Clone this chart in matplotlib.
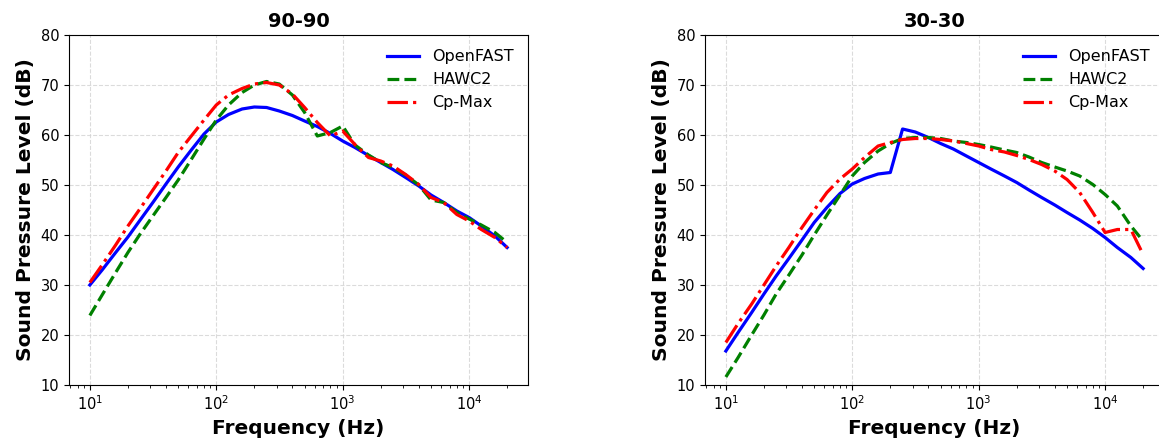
#import libraries
import matplotlib
matplotlib.use('Agg')
import matplotlib.pyplot as plt

#one-third octave band centre frequencies (Hz)
freq = [10, 12.5, 16, 20, 25, 31.5, 40, 50, 63, 80, 100, 125, 160, 200, 250, 315, 400,
        500, 630, 800, 1000, 1250, 1600, 2000, 2500, 3150, 4000, 5000, 6300, 8000,
        10000, 12500, 16000, 20000]

#case 90-90
of_90 = [30.0, 33.0, 36.5, 39.6, 43.0, 46.5, 50.2, 53.6, 56.9, 60.2, 62.6, 64.1, 65.2, 65.6,
         65.5, 64.8, 63.9, 62.8, 61.7, 60.3, 58.8, 57.5, 55.9, 54.5, 53.1, 51.5, 49.8, 48.0,
         46.5, 44.8, 43.5, 41.8, 39.8, 37.5]
hawc_90 = [23.9, 28.0, 32.5, 36.5, 40.2, 43.8, 47.5, 51.0, 55.0, 59.2, 63.0, 66.0, 68.5, 70.0,
           70.7, 70.2, 68.0, 64.5, 59.8, 60.5, 61.8, 58.0, 56.0, 54.5, 53.5, 52.0, 50.0, 47.0,
           46.5, 44.5, 43.2, 42.0, 40.5, 38.5]
cp_90 = [30.5, 34.0, 38.0, 41.8, 45.3, 49.0, 52.8, 56.5, 59.7, 63.0, 66.0, 68.0, 69.3, 70.2,
         70.5, 70.0, 68.2, 65.5, 62.5, 59.8, 60.8, 58.1, 55.5, 54.8, 53.8, 52.1, 50.1, 47.5,
         46.5, 44.1, 42.8, 41.1, 39.5, 37.5]

#case 30-30
of_30 = [16.8, 20.5, 24.5, 28.2, 31.8, 35.3, 39.0, 42.5, 45.5, 48.3, 50.2, 51.3, 52.2, 52.5,
         61.2, 60.6, 59.5, 58.3, 57.2, 55.8, 54.5, 53.2, 51.8, 50.5, 49.0, 47.5, 46.0, 44.5,
         43.0, 41.3, 39.5, 37.5, 35.5, 33.3]
hawc_30 = [11.6, 15.5, 20.0, 24.0, 28.2, 32.0, 36.0, 40.0, 44.0, 48.0, 51.8, 54.5, 56.8, 58.3,
           59.3, 59.5, 59.5, 59.3, 58.8, 58.5, 58.1, 57.6, 57.0, 56.5, 55.6, 54.5, 53.6, 52.8,
           51.8, 50.1, 48.1, 45.8, 41.8, 38.8]
cp_30 = [18.5, 22.3, 26.2, 30.0, 33.8, 37.5, 41.5, 45.0, 48.5, 51.2, 53.2, 55.5, 57.8, 58.5,
         59.1, 59.3, 59.3, 59.1, 58.8, 58.3, 57.8, 57.1, 56.6, 55.9, 55.1, 54.1, 52.8, 51.1,
         48.5, 44.5, 40.5, 41.1, 41.1, 36.1]

cases = [('90-90', of_90, hawc_90, cp_90), ('30-30', of_30, hawc_30, cp_30)]

fig = plt.figure(figsize=(11.59, 4.46), dpi=100)
positions = [[69/1159, 61/446, 459/1159, 350/446], [705/1159, 61/446, 459/1159, 350/446]]

for pos, (title, of, hawc, cp) in zip(positions, cases):
    ax = fig.add_axes(pos)
    ax.plot(freq, of, color='blue', linestyle='-', linewidth=2.3, label='OpenFAST')
    ax.plot(freq, hawc, color='green', linestyle='--', linewidth=2.3, label='HAWC2')
    ax.plot(freq, cp, color='red', linestyle='-.', linewidth=2.3, label='Cp-Max')
    ax.set_xscale('log')
    ax.set_ylim(10, 80)
    ax.set_yticks(range(10, 81, 10))
    ax.grid(True, linestyle='--', color='lightgray', alpha=0.8)
    ax.set_title(title, fontsize=14, fontweight='bold')
    ax.set_xlabel('Frequency (Hz)', fontsize=14.5, fontweight='bold')
    ax.set_ylabel('Sound Pressure Level (dB)', fontsize=14.6, fontweight='bold')
    ax.tick_params(labelsize=10.5)
    ax.legend(loc='upper right', frameon=False, fontsize=11.5)

plt.savefig('out.png', dpi=100)
